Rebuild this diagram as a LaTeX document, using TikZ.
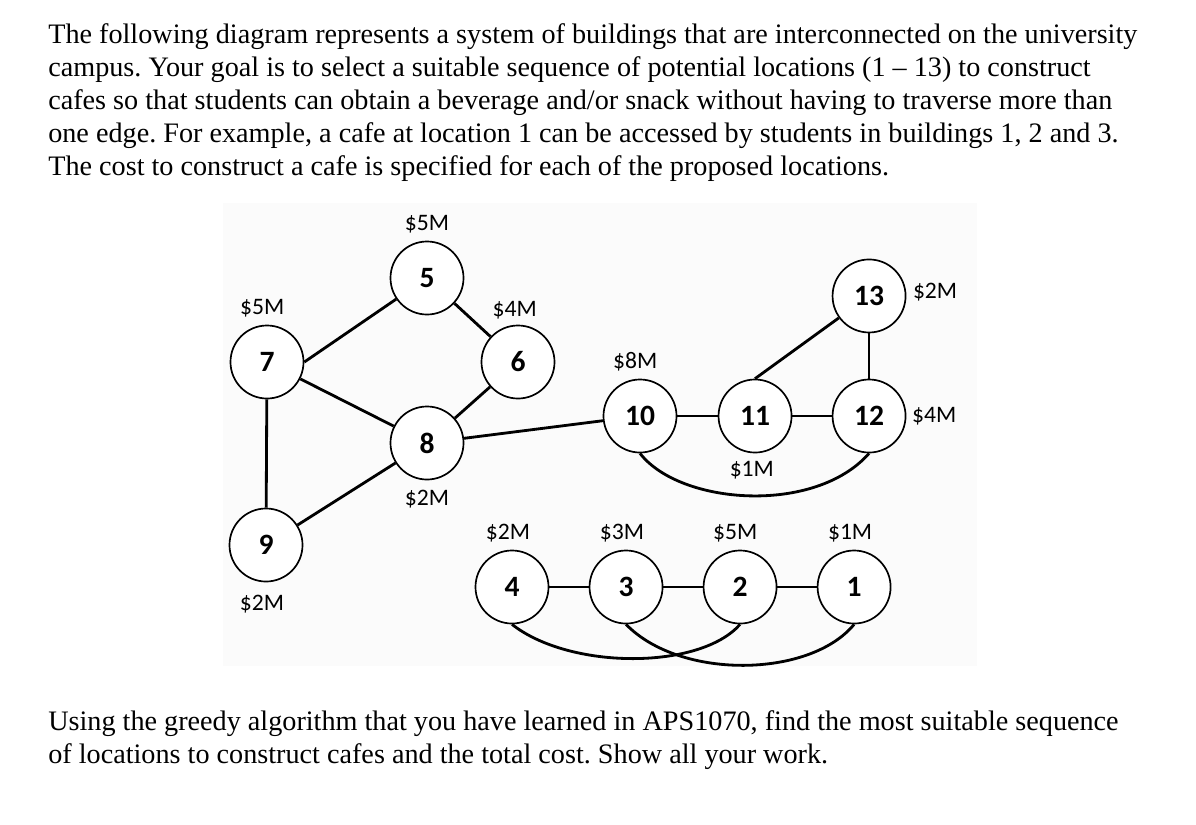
\documentclass[tikz,border=0pt]{standalone}
\usepackage{fontspec}
\setmainfont{Liberation Serif}
\newfontfamily\labelfont{Carlito}
\usetikzlibrary{positioning}
\definecolor{paneltint}{rgb}{0.985, 0.985, 0.985}
\tikzstyle{site} = [circle, draw=black, line width=1.2pt, fill=white, minimum size=1.825cm, inner sep=0pt, font=\labelfont\fontsize{21}{23}\selectfont\bfseries]
\tikzstyle{cost} = [inner sep=0pt, font=\labelfont\fontsize{16.8}{18}\selectfont]
\tikzstyle{para} = [anchor=base west, inner sep=0pt, font=\fontsize{20.05}{24}\selectfont]
\tikzstyle{edge} = [line width=2pt]

\begin{document}
\frenchspacing
\begin{tikzpicture}[x=0.025cm, y=-0.025cm, node distance=1.35cm]

\useasboundingbox (0,0) rectangle (1196,824);
\fill[paneltint] (223,203) rectangle (977,666);

% question text
\node (l1) [para] at (48,43) {The following diagram represents a system of buildings that are interconnected on the university};
\node (l2) [para] at (48,76) {campus. Your goal is to select a suitable sequence of potential locations (1 – 13) to construct};
\node (l3) [para] at (48,109) {cafes so that students can obtain a beverage and/or snack without having to traverse more than};
\node (l4) [para] at (48,142) {one edge. For example, a cafe at location 1 can be accessed by students in buildings 1, 2 and 3.};
\node (l5) [para] at (48,175) {The cost to construct a cafe is specified for each of the proposed locations.};

\node (b1) [para] at (48,730) {Using the greedy algorithm that you have learned in APS1070, find the most suitable sequence};
\node (b2) [para] at (48,763) {of locations to construct cafes and the total cost. Show all your work.};

% buildings
\node (n5) [site] at (427,278) {5};
\node (n7) [site] at (267,362) {7};
\node (n6) [site] at (518,362) {6};
\node (n8) [site] at (427,443) {8};
\node (n9) [site] at (266,545) {9};

\node (n10) [site] at (640,416) {10};
\node (n11) [site, right of=n10, node distance=2.875cm] {11};
\node (n12) [site, right of=n11, node distance=2.85cm] {12};
\node (n13) [site, above of=n12, node distance=3cm] {13};

\node (n4) [site] at (512,587) {4};
\node (n3) [site, right of=n4, node distance=2.85cm] {3};
\node (n2) [site, right of=n3, node distance=2.85cm] {2};
\node (n1) [site, right of=n2, node distance=2.85cm] {1};

% costs
\node (c5) [cost, above of=n5] {\$5M};
\node (c7) [cost, above of=n7, xshift=-0.12cm] {\$5M};
\node (c6) [cost, above of=n6, xshift=-0.08cm, yshift=-0.05cm] {\$4M};
\node (c8) [cost, below of=n8, yshift=-0.05cm] {\$2M};
\node (c9) [cost, below of=n9, xshift=-0.1cm, yshift=-0.12cm] {\$2M};
\node (c10) [cost, above of=n10, xshift=-0.12cm] {\$8M};
\node (c11) [cost, below of=n11, xshift=-0.08cm] {\$1M};
\node (c12) [cost, right of=n12, xshift=0.28cm] {\$4M};
\node (c13) [cost, right of=n13, xshift=0.3cm, yshift=0.1cm] {\$2M};
\node (c4) [cost, above of=n4, xshift=-0.1cm] {\$2M};
\node (c3) [cost, above of=n3, xshift=-0.1cm] {\$3M};
\node (c2) [cost, above of=n2, xshift=-0.12cm] {\$5M};
\node (c1) [cost, above of=n1, xshift=-0.1cm] {\$1M};

% edges
\draw[edge] (n7.east) -- (n5);
\draw[edge] (n5) -- (n6);
\draw[edge] (n7) -- (n8);
\draw[edge] (n6) -- (n8);
\draw[edge] (n7) -- (n9);
\draw[edge] (n8) -- (n9);
\draw[edge] (n8) -- (n10);
\draw[edge] (n10) -- (n11);
\draw[edge] (n11) -- (n12);
\draw[edge] (n11.north) -- (n13);
\draw[edge] (n13) -- (n12);
\draw[edge] (n10.south) .. controls (680,505) and (815,515) .. (n12.south);

\draw[edge] (n4) -- (n3);
\draw[edge] (n3) -- (n2);
\draw[edge] (n2) -- (n1);
\draw[edge] (n4.south) .. controls (570,670) and (700,670) .. (n2.south);
\draw[edge] (n3.south) .. controls (680,680) and (810,678) .. (n1.south);

\end{tikzpicture}
\end{document}
